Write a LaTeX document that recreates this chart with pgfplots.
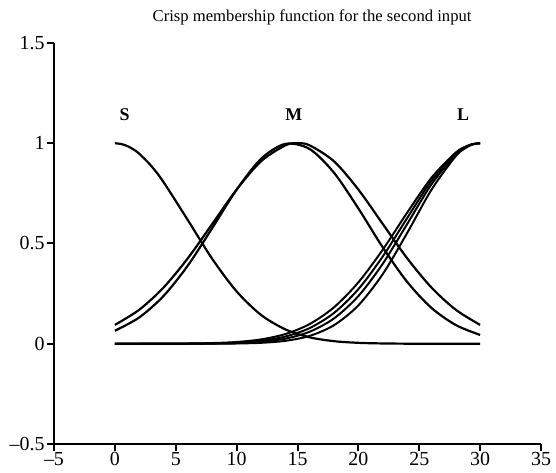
\documentclass[border=0pt]{standalone}
\usepackage{fontspec}
\setmainfont{Liberation Serif}
\usepackage{pgfplots}
\pgfplotsset{compat=1.18}
\begin{document}
\begin{tikzpicture}
\useasboundingbox (-54bp,-29bp) rectangle (502bp,444bp);
\begin{axis}[
  at={(0,0)}, anchor=south west,
  scale only axis, width=487bp, height=401bp,
  xmin=-5, xmax=35, ymin=-0.5, ymax=1.5,
  axis lines*=left,
  axis line style={line width=2.6bp, black},
  xtick={-5,0,5,10,15,20,25,30,35},
  ytick={-0.5,0,0.5,1,1.5},
  xticklabels={\textendash5,0,5,10,15,20,25,30,35},
  yticklabels={\textendash0.5,0,0.5,1,1.5},
  tick align=outside, major tick length=7bp,
  tick style={line width=2bp, black},
  /pgf/number format/assume math mode=true,
  tick label style={font=\fontsize{20}{22}\selectfont},
  xticklabel style={yshift=2bp},
  yticklabel style={xshift=1bp},
  clip=false,
  title={Crisp membership function for the second input},
  every axis title/.style={at={(0.53,1)}, anchor=base, yshift=21bp, font=\fontsize{16.7}{19}\selectfont},
]
% S
\addplot[black, line width=2.2bp, smooth] coordinates {
(0,1) (0.5,0.9966) (1,0.9867) (1.5,0.9702) (2,0.948) (3,0.886) (4,0.806) (6,0.616) (8,0.423) (10,0.261) (12,0.144) (14,0.0718)
(16,0.0320) (18,0.0128) (20,0.0046) (22,0.0015) (24,0.0004) (26,0.0001) (28,0) (30,0)};
% M wide
\addplot[black, line width=2.2bp, smooth] coordinates {
(0,0.0941) (2,0.1695) (4,0.2805) (6,0.4270) (8,0.5977) (10,0.7691) (12,0.9098) (14,0.9896) (15,1)
(16,0.9896) (18,0.9098) (20,0.7691) (22,0.5977) (24,0.4270) (26,0.2805) (28,0.1695) (30,0.0941)};
% M narrow
\addplot[black, line width=2.2bp, smooth] coordinates {
(0,0.0649) (2,0.1311) (4,0.2384) (6,0.3907) (8,0.5772) (10,0.7684) (12,0.9219) (14,0.9968)
(16,0.9712) (18,0.8527) (20,0.6748) (22,0.4811) (24,0.3091) (26,0.1790) (28,0.0934) (30,0.0439)};
% L curves
\addplot[black, line width=2bp, smooth] coordinates {
(0,0) (2,0) (4,0) (6,0) (8,0.0003) (10,0.0013) (12,0.0047) (14,0.0145)
(16,0.0392) (18,0.0926) (20,0.1915) (22,0.3472) (24,0.5516) (26,0.7676) (28,0.936) (29,0.9836) (29.5,0.9959) (30,1)};
\addplot[black, line width=2bp, smooth] coordinates {
(0,0) (2,0) (4,0.0001) (6,0.0003) (8,0.0010) (10,0.0032) (12,0.0095) (14,0.0253)
(16,0.0599) (18,0.1264) (20,0.2378) (22,0.3988) (24,0.5963) (26,0.7947) (28,0.9441) (29,0.9857) (29.5,0.9964) (30,1)};
\addplot[black, line width=2bp, smooth] coordinates {
(0,0) (2,0.0001) (4,0.0002) (6,0.0006) (8,0.0018) (10,0.0055) (12,0.0148) (14,0.0358)
(16,0.0782) (18,0.1537) (20,0.2723) (22,0.4350) (24,0.6261) (26,0.8121) (28,0.9493) (29,0.9871) (29.5,0.9968) (30,1)};
\addplot[black, line width=2bp, smooth] coordinates {
(0,0) (2,0.0001) (4,0.0003) (6,0.0011) (8,0.0033) (10,0.0088) (12,0.0216) (14,0.0483)
(16,0.0983) (18,0.1819) (20,0.3062) (22,0.4689) (24,0.6531) (26,0.8275) (28,0.9538) (29,0.9882) (29.5,0.9970) (30,1)};
\node[font=\bfseries\fontsize{18}{21}\selectfont] at (axis cs:0.8,1.145) {S};
\node[font=\bfseries\fontsize{18}{21}\selectfont] at (axis cs:14.7,1.145) {M};
\node[font=\bfseries\fontsize{18}{21}\selectfont] at (axis cs:28.6,1.145) {L};
\end{axis}
\end{tikzpicture}
\end{document}
